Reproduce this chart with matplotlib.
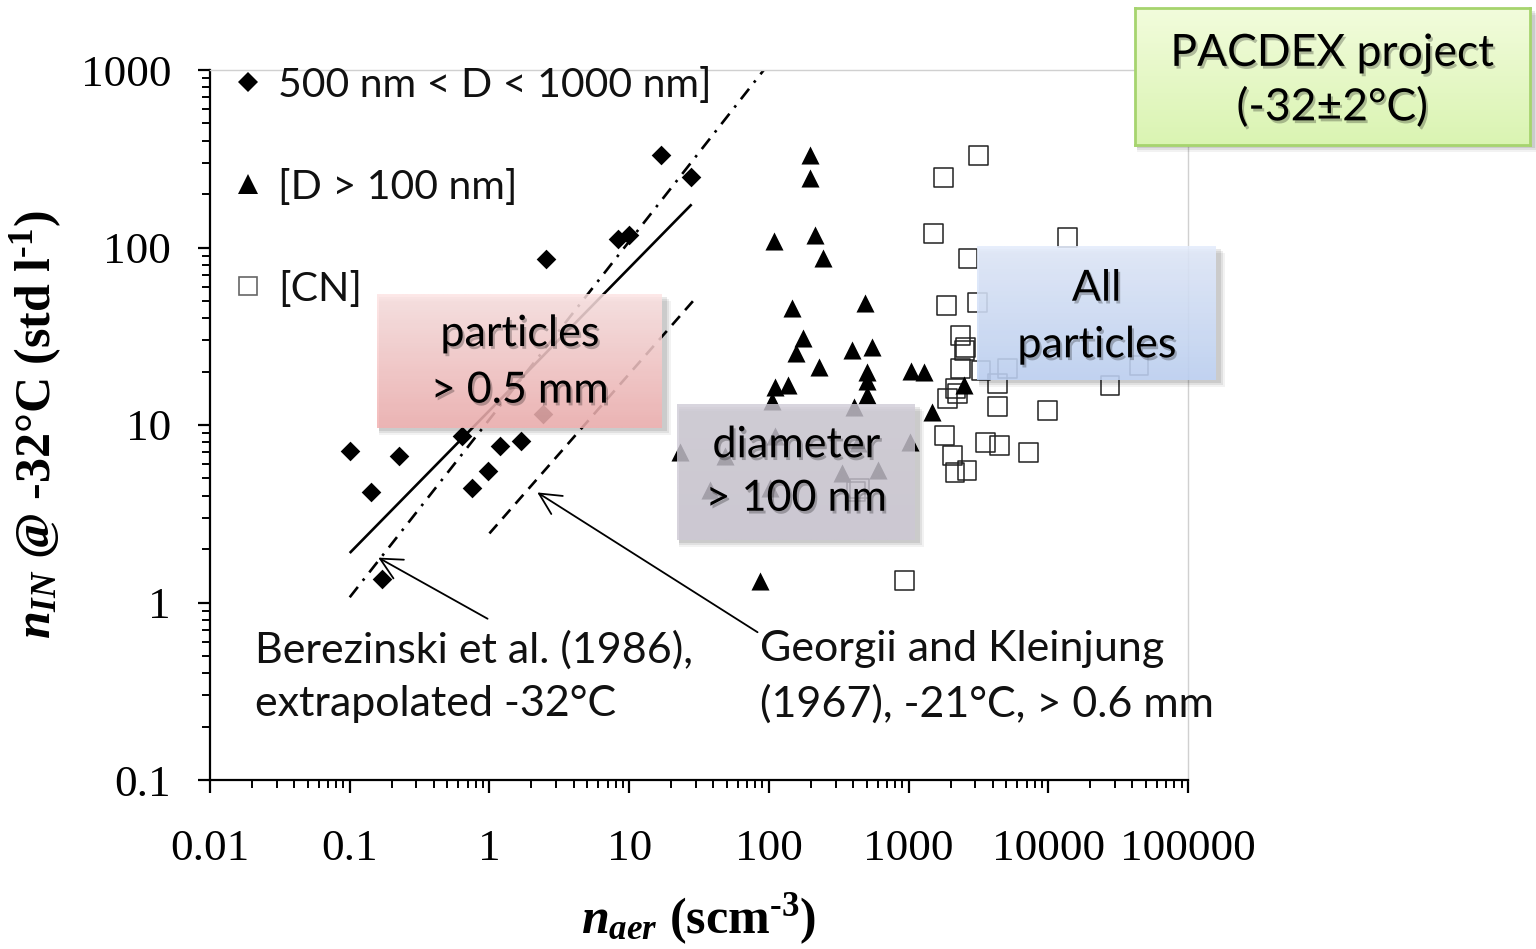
import numpy as np
import matplotlib
matplotlib.use("Agg")
import matplotlib.pyplot as plt
from matplotlib.patches import Rectangle
from matplotlib.lines import Line2D
import matplotlib.patheffects as pe
from matplotlib.ticker import LogLocator, FixedLocator, FixedFormatter, NullFormatter

# ---------------- data ----------------
diam_x = [0.101, 0.143, 0.227, 0.171, 0.64, 0.756, 0.98, 1.2, 1.67, 2.4, 2.52, 8.26, 9.9, 17.0, 27.5]
diam_y = [7.1, 4.17, 6.65, 1.35, 8.7, 4.39, 5.53, 7.66, 8.08, 11.6, 86.7, 111, 118, 334, 248]

tri_x = [198, 198, 109, 215, 245, 147, 486, 176, 157, 230, 396, 550, 500, 500, 505,
         111, 138, 106, 405, 1040, 1280, 1480, 2480, 23.3, 111, 48.8, 1020, 438,
         335, 607, 38.2, 102, 87]
tri_y = [330, 245, 109, 117, 87, 45.9, 48.6, 31, 25.3, 21.1, 26.3, 27.4, 19.8, 17.8, 14.7,
         16.3, 16.7, 13.7, 12.6, 20.2, 20.0, 11.8, 16.7, 7.0, 8.7, 6.7, 7.97, 7.9,
         5.4, 5.55, 4.28, 4.39, 1.33]

sq_x = [3160, 1780, 1510, 13800, 2660, 1860, 3100, 2340, 2560, 2500, 2340, 3300, 5130,
        4330, 2170, 2250, 1900, 4330, 9900, 27600, 44600, 1800, 3550, 4470, 7200,
        2050, 2150, 2620, 936, 445, 420]
sq_y = [330, 248, 120, 114, 87, 47, 49, 32, 27.3, 26.3, 20.8, 20.2, 20.8,
        17.1, 16.1, 15.0, 14.1, 12.7, 12.1, 16.7, 21.6, 8.7, 8.0, 7.65, 7.0,
        6.7, 5.4, 5.55, 1.33, 4.4, 4.2]

fit_x = [0.1, 28]
fit_y = [1.9, 175]
berez_x = [0.1, 92]
berez_y = [1.07, 1000]
georgii_x = [1.0, 30]
georgii_y = [2.45, 52]

legend_labels = ["500 nm < D < 1000 nm]", "[D > 100 nm]", "[CN]"]
xticks = [0.01, 0.1, 1, 10, 100, 1000, 10000, 100000]
xtick_labels = ["0.01", "0.1", "1", "10", "100", "1000", "10000", "100000"]
yticks = [0.1, 1, 10, 100, 1000]
ytick_labels = ["0.1", "1", "10", "100", "1000"]

# ---------------- style ----------------
plt.rcParams['mathtext.fontset'] = 'custom'
plt.rcParams['mathtext.rm'] = 'Liberation Serif:bold'
plt.rcParams['mathtext.it'] = 'Liberation Serif:italic:bold'
plt.rcParams['mathtext.bf'] = 'Liberation Serif:bold'

W, H = 1536, 949
fig = plt.figure(figsize=(W / 100, H / 100), dpi=100)
fig.patch.set_facecolor('white')


def fx(px):
    return px / W


def fy(py):
    return 1 - py / H


ax = fig.add_axes([fx(210), fy(780), (1188 - 210) / W, (780 - 70) / H], zorder=1)
ax.set_xscale('log')
ax.set_yscale('log')
ax.set_xlim(0.01, 100000)
ax.set_ylim(0.1, 1000)

for s in ['left', 'bottom']:
    ax.spines[s].set_linewidth(1.6)
    ax.spines[s].set_color('black')
for s in ['top', 'right']:
    ax.spines[s].set_linewidth(1.0)
    ax.spines[s].set_color('#d0d0d0')

ax.xaxis.set_major_locator(FixedLocator(xticks))
ax.xaxis.set_major_formatter(FixedFormatter(xtick_labels))
ax.yaxis.set_major_locator(FixedLocator(yticks))
ax.yaxis.set_major_formatter(FixedFormatter(ytick_labels))
ax.xaxis.set_minor_locator(LogLocator(base=10, subs=np.arange(2, 10), numticks=20))
ax.yaxis.set_minor_locator(LogLocator(base=10, subs=np.arange(2, 10), numticks=20))
ax.xaxis.set_minor_formatter(NullFormatter())
ax.yaxis.set_minor_formatter(NullFormatter())
ax.tick_params(which='major', direction='out', length=9, width=1.6, color='black')
ax.tick_params(which='minor', direction='out', length=5.5, width=1.4, color='black')
ax.tick_params(axis='y', which='major', pad=19)
ax.tick_params(axis='x', which='major', pad=26)
ax.tick_params(top=False, right=False)
for lab in ax.get_xticklabels() + ax.get_yticklabels():
    lab.set_fontfamily('Liberation Serif')
    lab.set_fontsize(32.5)

# lines
ax.plot(fit_x, fit_y, color='black', lw=1.9, solid_capstyle='butt', zorder=2)
ax.plot(berez_x, berez_y, color='black', lw=1.9, linestyle=(0, (5, 3, 1, 3)), zorder=2)
ax.plot(georgii_x, georgii_y, color='black', lw=1.9, linestyle=(0, (4.5, 3)), zorder=2)

# markers
ax.scatter(sq_x, sq_y, marker='s', s=13.5 ** 2, facecolors='none',
           edgecolors='#222222', linewidths=1.1, zorder=3)
ax.scatter(tri_x, tri_y, marker='^', s=13 ** 2, color='black', linewidths=0, zorder=4)
ax.scatter(diam_x, diam_y, marker='D', s=10 ** 2, color='black', linewidths=0, zorder=5)

handles = [
    Line2D([], [], marker='D', ms=10, ls='none', color='black', mew=0),
    Line2D([], [], marker='^', ms=14, ls='none', color='black', mew=0),
    Line2D([], [], marker='s', ms=13, ls='none', mfc='none', mec='#666666', mew=1.2),
]
leg = ax.legend(handles, legend_labels, loc='upper left',
                bbox_to_anchor=(0.0074, 1.028), frameon=False,
                handlelength=0.7, handletextpad=0.38, labelspacing=1.59,
                prop={'family': 'Lato', 'size': 29.5}, borderaxespad=0.0)
for t in leg.get_texts():
    t.set_color('#111111')

# axis labels
ax.set_ylabel(r'$n_{IN}$ @ -32°C (std l$^{\text{-1}}$)', fontfamily='Liberation Serif',
              fontweight='bold', fontsize=36, labelpad=12)
ax.set_xlabel(r'$n_{aer}$ (scm$^{\text{-3}}$)', fontfamily='Liberation Serif',
              fontweight='bold', fontsize=36, labelpad=16)

# annotations (arrows + text)
ap = dict(arrowstyle='->,head_length=0.7,head_width=0.35', color='black', lw=1.3,
          shrinkA=0, shrinkB=0, mutation_scale=22)
ax.annotate('', xy=(0.16, 1.79), xytext=(0.97, 0.81), arrowprops=ap, zorder=6)
ax.annotate('', xy=(2.2, 4.17), xytext=(83, 0.68), arrowprops=ap, zorder=6)

fig.text(fx(255), fy(677), 'Berezinski et al. (1986),\nextrapolated -32°C',
         fontfamily='Lato', fontsize=31, ha='left', va='center', linespacing=1.5,
         color='#111111', zorder=6)
fig.text(fx(760), fy(677), 'Georgii and Kleinjung\n(1967), -21°C, > 0.6 mm',
         fontfamily='Lato', fontsize=31, ha='left', va='center', linespacing=1.5,
         color='#111111', zorder=6)


# ---------------- callout boxes ----------------
def grad_box(x0, y0, x1, y1, c_top, c_bot, alpha, text, fs, ls, ty=0.5, edge=None, z=10):
    for k, a in [(7, 0.05), (5, 0.07), (3, 0.09)]:
        fig.patches.append(Rectangle((fx(x0 + 2), fy(y1 + k)), (x1 - x0 + k) / W, (y1 - y0) / H,
                                     transform=fig.transFigure, facecolor='black',
                                     edgecolor='none', alpha=a, zorder=z - 1))
    bax = fig.add_axes([fx(x0), fy(y1), (x1 - x0) / W, (y1 - y0) / H], zorder=z)
    t = np.linspace(0, 1, 128)[:, None, None]
    ct = np.array(c_top, float)[None, None, :] / 255
    cb = np.array(c_bot, float)[None, None, :] / 255
    img = (1 - t) * ct + t * cb
    rgba = np.concatenate([img, np.full((128, 1, 1), alpha)], axis=2)
    bax.imshow(rgba, aspect='auto', extent=[0, 1, 0, 1], origin='upper', interpolation='bilinear')
    bax.set_xlim(0, 1)
    bax.set_ylim(0, 1)
    bax.set_xticks([])
    bax.set_yticks([])
    bax.patch.set_alpha(0)
    for s in bax.spines.values():
        if edge is None:
            s.set_visible(False)
        else:
            s.set_color(edge)
            s.set_linewidth(2)
    bax.text(0.5, ty, text, transform=bax.transAxes, ha='center', va='center',
             fontfamily='Lato', fontsize=fs, linespacing=ls, color='black',
             path_effects=[pe.withSimplePatchShadow(offset=(1.5, -2), shadow_rgbFace='black', alpha=0.25)])
    return bax


grad_box(377, 294, 662, 428, (253, 228, 228), (242, 176, 176), 0.85, 'particles\n> 0.5 mm', 31, 1.6, ty=0.49)
grad_box(677, 404, 915, 540, (208, 204, 215), (205, 200, 212), 0.8, 'diameter\n> 100 nm', 31, 1.5)
grad_box(977, 246, 1216, 380, (228, 236, 252), (192, 212, 246), 0.88, 'All\nparticles', 31, 1.6, ty=0.47)
grad_box(1135, 8, 1530, 145, (242, 252, 220), (218, 244, 178), 1.0, 'PACDEX project\n(-32±2°C)', 32, 1.4,
         ty=0.47, edge='#a6d46e')

fig.savefig('out.png', dpi=100)
